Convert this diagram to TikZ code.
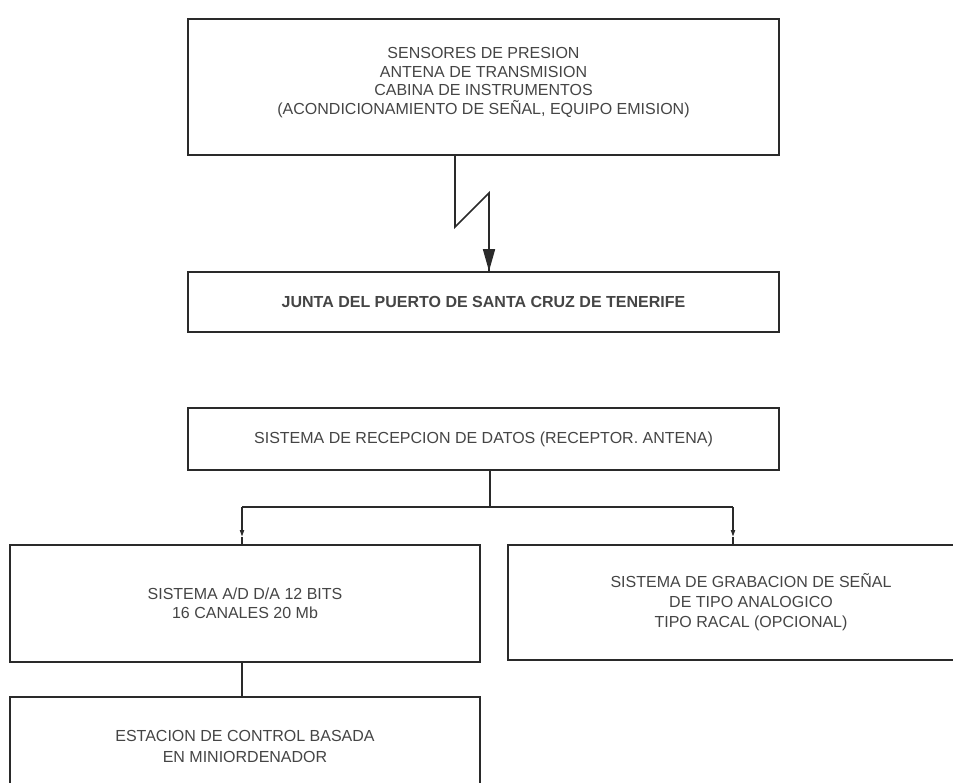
\documentclass[tikz,border=0pt]{standalone}
\usepackage{fontspec}
\setmainfont{Liberation Sans}
\usetikzlibrary{arrows.meta}
\definecolor{ink}{HTML}{2A2A2A}
\definecolor{txt}{HTML}{454545}
\begin{document}
\begin{tikzpicture}[x=1pt,y=-1pt,
  box/.style={draw=ink, line width=1.7pt, rectangle, inner sep=0pt, align=center,
    text=txt, font=\fontsize{16}{19}\selectfont},
  conn/.style={draw=ink, line width=1.7pt},
  bigtip/.style={-{Triangle[length=22pt,width=12pt]}},
  smalltip/.style={-{Triangle[length=7pt,width=4pt]}}]
\useasboundingbox (0,0) rectangle (953,783);
\fill[white] (0,0) rectangle (953,783);

\node[box, minimum width=591pt, minimum height=136pt, font=\fontsize{16}{18.5}\selectfont] (top) at (483.5,87)
  {SENSORES DE PRESION\\ANTENA DE TRANSMISION\\CABINA DE INSTRUMENTOS\\(ACONDICIONAMIENTO DE SEÑAL, EQUIPO EMISION)\\[-6pt]};
\node[box, minimum width=591pt, minimum height=60pt, font=\fontsize{16}{19}\selectfont\bfseries] (junta) at (483.5,302)
  {JUNTA DEL PUERTO DE SANTA CRUZ DE TENERIFE};
\node[box, minimum width=591pt, minimum height=62pt] (recep) at (483.5,439)
  {SISTEMA DE RECEPCION DE DATOS (RECEPTOR. ANTENA)};
\node[box, minimum width=470pt, minimum height=117pt] (ad) at (245,603.5)
  {SISTEMA A/D D/A 12 BITS\\16 CANALES 20 Mb};
\node[box, minimum width=486pt, minimum height=115pt, font=\fontsize{16}{20}\selectfont] (grab) at (751,602.5)
  {SISTEMA DE GRABACION DE SEÑAL\\DE TIPO ANALOGICO\\TIPO RACAL (OPCIONAL)};
\node[box, minimum width=470pt, minimum height=98pt, font=\fontsize{16}{21}\selectfont] (est) at (245,746)
  {ESTACION DE CONTROL BASADA\\EN MINIORDENADOR};

% radio link zigzag
\coordinate (z1) at (455,227);
\coordinate (z2) at (489,193);
\coordinate (z3) at (489,245);
\draw[conn, line join=miter] (top.south -| z1) -- (z1) -- (z2) -- (z2 |- junta.north);
\draw[conn, bigtip] (z3) -- (z2 |- junta.north);

% branching
\coordinate (bar) at (490,507);
\coordinate (barL) at (242,507);
\coordinate (barR) at (733,507);
\coordinate (midL) at (242,537);
\coordinate (midR) at (733,537);
\draw[conn] (recep.south -| bar) -- (bar);
\draw[conn] (barL) -- (barR);
\draw[conn, smalltip] (barL) -- (midL);
\draw[conn, smalltip] (barR) -- (midR);
\draw[conn] (midL) -- (midL |- ad.north);
\draw[conn] (midR) -- (midR |- grab.north);
\draw[conn] (ad.south -| barL) -- (est.north -| barL);
\end{tikzpicture}
\end{document}
